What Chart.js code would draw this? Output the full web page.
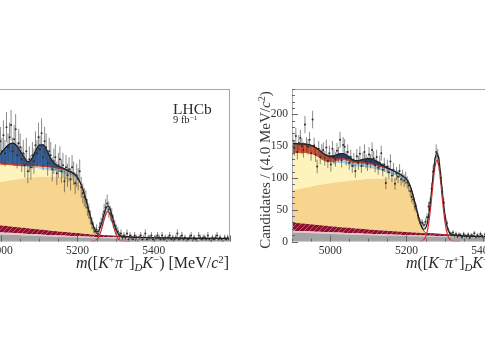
<!DOCTYPE html>
<html><head><meta charset="utf-8">
<script src="https://cdn.jsdelivr.net/npm/chart.js@4.4.1/dist/chart.umd.min.js"></script>
<style>
html,body{margin:0;padding:0;width:485px;height:360px;overflow:hidden;background:#fff;}
body{position:relative;font-family:'Liberation Serif',serif;color:#2a2a2a;}
canvas{position:absolute;top:0;}
.t{position:absolute;white-space:nowrap;line-height:1;z-index:2;font-weight:normal;}
sup{font-size:0.68em;vertical-align:0.45em;line-height:0;}
sub{font-size:0.68em;vertical-align:-0.3em;line-height:0;}
</style></head><body>
<canvas id="cL" width="360" height="360" style="left:-120px"></canvas>
<canvas id="cR" width="400" height="360" style="left:180px"></canvas>
<div class="t" style="left:173px;top:101px;font-size:15.5px">LHCb</div>
<div class="t" style="left:173px;top:115px;font-size:10.5px">9 fb<sup>−1</sup></div>
<div class="t" style="right:256px;top:255px;font-size:16px"><i>m</i>([<i>K</i><sup>+</sup><i>π</i><sup>−</sup>]<sub><i>D</i></sub><i>K</i><sup>−</sup>) [MeV/<i>c</i><sup>2</sup>]</div>
<div class="t" style="right:-74px;top:255px;font-size:16px"><i>m</i>([<i>K</i><sup>−</sup><i>π</i><sup>+</sup>]<sub><i>D</i></sub><i>K</i><sup>+</sup>) [MeV/<i>c</i><sup>2</sup>]</div>
<div class="t" style="left:145px;top:162px;width:240px;height:16px;line-height:16px;text-align:center;font-size:15px;color:#3a3a3a;transform:rotate(-90deg)">Candidates / (4.0 MeV/<i>c</i><sup>2</sup>)</div>
<script>
// ---- model grid (mass, MeV/c^2) ----
const massGrid=[4900,4910,4920,4930,4940,4950,4960,4970,4980,4990,5000,5010,5020,5030,5040,5050,5060,5070,5080,5090,5100,5110,5120,5130,5140,5150,5160,5170,5180,5190,5200,
5205,5210,5215,5220,5225,5230,5235,5240,5245,5250,5255,5260,5265,5270,5275,5280,5285,5290,5295,5300,5305,5310,5315,5320,
5340,5360,5380,5400,5450,5500,5550,5600];
const xTickValues=[5000,5200,5400];
const yTickValuesR=[0,50,100,150,200];
const binStart=4900, binWidth=4;

// ---- left panel (B-) model boundaries (cumulative) ----
const L_grayTop=[4.2,4.1,4.0,4.0,3.9,3.8,3.8,3.7,3.6,3.6,3.5,3.4,3.3,3.3,3.2,3.1,3.0,3.0,2.9,2.8,2.7,2.6,2.6,2.5,2.4,2.3,2.3,2.2,2.1,2.1,2.0,
2.0,2.0,1.9,1.9,1.9,1.8,1.8,1.8,1.7,1.7,1.7,1.7,1.6,1.6,1.6,1.6,1.6,1.5,1.5,1.5,1.5,1.5,1.5,1.4,
1.4,1.4,1.3,1.3,1.2,1.1,1.05,1.0];
const L_pinkTop=[5.2,5.1,5.0,5.0,4.9,4.8,4.8,4.7,4.6,4.6,4.5,4.4,4.3,4.2,4.1,4.0,3.9,3.8,3.7,3.6,3.5,3.4,3.3,3.2,3.1,3.0,3.0,2.9,2.8,2.8,2.7,
2.7,2.6,2.5,2.5,2.5,2.4,2.4,2.4,2.3,2.3,2.3,2.3,2.2,2.2,2.2,2.2,2.2,2.1,2.1,2.1,2.1,2.1,2.0,2.0,
2.0,1.9,1.9,1.8,1.7,1.6,1.55,1.5];
const L_hatchTop=[10,9.8,9.6,9.4,9.2,9.0,8.8,8.6,8.4,8.2,8.0,7.8,7.6,7.4,7.2,7.0,6.8,6.6,6.4,6.2,6.0,5.8,5.6,5.4,5.2,5.0,4.85,4.7,4.5,4.35,4.2,
4.1,4.0,3.9,3.8,3.7,3.6,3.5,3.4,3.3,3.2,3.15,3.1,3.0,2.95,2.9,2.8,2.75,2.7,2.65,2.6,2.55,2.5,2.45,2.4,
2.2,2.05,1.95,1.85,1.7,1.6,1.55,1.5];
const L_orangeTop=[24,25,25.8,26.5,27.2,27.8,28.3,28.7,29.1,29.4,29.7,30,30.3,30.6,30.9,31.2,31.4,31.6,31.8,32,32.1,32.2,32.3,32.3,32.3,32.3,32.2,32,31.6,31,29.8,
28.6,26.8,24.4,21.4,18,14.4,11,8,5.5,3.6,null,null,null,null,null,null,null,null,null,null,null,null,null,null,
null,null,null,null,null,null,null,null];
const L_paleTop=[40,40,40,40,39.8,39.6,39.3,39,38.7,38.4,38.2,38,37.9,37.8,37.6,37.4,37.2,37,36.8,36.5,36.2,35.9,35.6,35.3,35,34.6,34.2,33.7,33.1,32.3,30.8,
29.4,27.5,25,22,18.5,14.8,11.3,8.2,5.7,3.8,null,null,null,null,null,null,null,null,null,null,null,null,null,null,
null,null,null,null,null,null,null,null];
const L_blueLightTop=[40,40,40,40,39.8,39.6,39.3,39,38.7,38.4,38.2,38,37.9,37.8,37.6,37.4,37.5,37.4,37.4,37.3,37.2,37,36.9,36.7,36.5,36.1,35.7,35.1,34.3,33.3,31.6,
30,28,25.4,22.3,18.7,15,11.5,8.3,5.8,3.9,null,null,null,null,null,null,null,null,null,null,null,null,null,null,
null,null,null,null,null,null,null,null];
const L_redTop=[44,44,43.8,43.6,43.2,42.8,42.1,41.3,40.5,39.7,39.2,38.9,38.8,38.7,38.4,38.2,38.3,38.15,38.1,38,37.9,37.65,37.5,37.3,37.05,36.6,36.15,35.5,34.65,33.6,31.8,
30.1,28.1,25.5,22.4,18.8,15.1,11.6,8.4,5.9,4.0,null,null,null,null,null,null,null,null,null,null,null,null,null,null,
null,null,null,null,null,null,null,null];
const L_blueTop=[44.3,44.3,44.1,43.9,43.5,43.1,42.5,41.8,41.5,42.2,44.2,46.4,48.3,49,47.9,45.2,42.1,39.65,41.1,45,48.1,48.15,45.5,41.3,38.85,37.6,36.75,35.9,34.95,33.9,32,
30.2,28.2,25.6,22.5,18.9,15.2,11.7,8.5,6,4.1,null,null,null,null,null,null,null,null,null,null,null,null,null,null,
null,null,null,null,null,null,null,null];
const L_signal=[null,null,null,null,null,null,null,null,null,null,null,null,null,null,null,null,null,null,null,null,null,null,null,null,null,null,null,null,null,null,null,
null,null,null,null,null,null,0.05,0.1,0.3,0.8,2,4.2,7.3,10.9,13.8,15,13.8,10.9,7.3,4.2,2,0.8,0.3,0.1,
0.02,null,null,null,null,null,null,null];
const L_counts=[46,40,49,43,38,47,44,52,41,45, 39,48,43,41,50,37,44,40,46,38, 43,36,47,41,50,45,53,44,57,47,
52,58,45,51,56,43,49,47,41,44, 38,45,35,41,37,43,40,48,44,52, 46,54,42,50,47,39,45,43,36,40,
42,34,38,41,35,38,30,37,33,36, 31,37,34,29,33,31,35,27,24,22, 21,17,15,12,9,7,5,6,4,7,
9,11,15,17,19,16,14,13,10,8, 6,5,3,4,2,3,2,4,1,3,
2,1,3,2,0,2,3,1,2,4, 1,2,2,3,1,0,2,3,2,1, 3,1,2,0,2,3,1,2,1,2, 4,1,2,3,1,2,0,1,2,3,
1,2,1,0,3,2,1,2,2,1, 3,1,0,2,1,2,3,1,2,1, 0,2,1,2,1];

// ---- right panel (B+) model boundaries (cumulative) ----
const R_grayTop=[14,13.8,13.6,13.4,13.2,13,12.8,12.6,12.4,12.2,12,11.8,11.6,11.4,11.2,11,10.8,10.6,10.4,10.2,10,9.9,9.7,9.6,9.4,9.3,9.1,9,8.8,8.7,8.5,
8.4,8.4,8.3,8.2,8.1,8.1,8,7.9,7.9,7.8,7.7,7.6,7.6,7.5,7.4,7.4,7.3,7.2,7.2,7.1,7,7,6.9,6.8,
6.6,6.4,6.2,6,5.6,5.3,5,4.8];
const R_pinkTop=[17,16.7,16.5,16.2,16,15.7,15.5,15.2,15,14.7,14.5,14.2,14,13.8,13.5,13.3,13,12.8,12.5,12.3,12.1,11.9,11.7,11.5,11.3,11.1,10.9,10.7,10.5,10.4,10.2,
10.1,10,9.9,9.8,9.7,9.6,9.5,9.4,9.4,9.3,9.2,9.1,9,8.9,8.8,8.8,8.7,8.6,8.5,8.4,8.3,8.3,8.2,8.1,
7.9,7.6,7.4,7.2,6.8,6.4,6.1,5.8];
const R_hatchTop=[30,29.4,28.8,28.2,27.6,27,26.4,25.8,25.2,24.6,24,23.5,23,22.5,22,21.5,21,20.5,20,19.5,19,18.5,18,17.6,17.2,16.8,16.4,16,15.6,15.2,14.8,
14.6,14.4,14.2,14,13.8,13.6,13.4,13.2,13,12.8,12.6,12.4,12.2,12,11.8,11.6,11.4,11.2,11,10.8,10.6,10.4,10.2,10,
9.3,8.6,8,7.6,6.9,6.4,6.1,5.8];
const R_orangeTop=[80,81.5,83,84.3,85.5,86.7,87.8,88.8,89.8,90.8,91.8,92.7,93.5,94.3,95,95.6,96.2,96.8,97.3,97.8,98.2,98.6,98.9,99.1,99.2,99.3,99.2,99,98.3,97,93.5,
90,84,75.5,64.5,52.5,40.5,29.5,21,15.5,13.2,null,null,null,null,null,null,null,null,null,null,null,null,null,null,
null,null,null,null,null,null,null,null];
const R_paleTop=[139,139,139,139,138.5,137.5,135.5,132,128,125,123.5,123,123,123,122,120,118,117.5,117.5,117,116,115,113.5,112,110,108,106,104,101.5,98.5,94.5,
91,85,76.2,65.2,53.2,41.2,30.2,21.6,16,13.4,null,null,null,null,null,null,null,null,null,null,null,null,null,null,
null,null,null,null,null,null,null,null];
const R_blueLightTop=[139,139,139,139,138.5,137.5,135.5,132,128,125,124.5,125,126.5,128,127.5,125.5,123.5,122.5,122.5,122,121,120,118.5,117,115.5,113.5,111.5,109,106,102.5,97.5,
93.5,87,77.7,66.4,54.2,42,30.8,22,16.3,13.6,null,null,null,null,null,null,null,null,null,null,null,null,null,null,
null,null,null,null,null,null,null,null];
const R_redTop=[154,153.5,153,153,152.5,151,148,144,139,134.5,132,130.5,130.5,131,130.5,128.5,126.5,125.5,125.5,125,124,122.8,121,119,117,114.5,112.2,109.5,106.4,102.8,97.7,
93.6,87.1,77.8,66.5,54.3,42.1,30.9,22.1,16.4,13.7,null,null,null,null,null,null,null,null,null,null,null,null,null,null,
null,null,null,null,null,null,null,null];
const R_blueTop=[154.5,154,153.5,153.5,153,151.5,148.5,144.5,139.5,135.5,134.5,135,137,138.5,137,133,128.5,127,128,129.5,130.5,129.8,127,123,119.5,116,113.2,110.3,107,103.3,98.1,
93.7,87.2,77.9,66.6,54.4,42.2,31,22.2,16.5,13.8,null,null,null,null,null,null,null,null,null,null,null,null,null,null,
null,null,null,null,null,null,null,null];
const R_signal=[null,null,null,null,null,null,null,null,null,null,null,null,null,null,null,null,null,null,null,null,null,null,null,null,null,null,null,null,null,null,null,
null,null,null,null,null,null,0.3,0.8,2.5,7,17,36,62,93,118,128,118,93,62,36,17,7,2.5,0.8,
0.1,null,null,null,null,null,null,null];
const R_counts=[158,147,166,141,155,163,150,144,184,152, 149,160,139,192,151,137,118,146,133,141,
144,131,148,127,139,121,146,133,129,143, 137,160,128,152,149,131,141,124,133,119,
128,111,134,124,138,119,129,141,126,122, 137,126,144,131,120,133,116,124,139,113,
121,92,118,109,126,104,113,91,107,102, 111,98,103,96,100,93,88,79,70,66,
55,52,41,33,30,29,26,31,38,55, 61,83,110,121,141,134,122,100,78,61,
37,29,18,13,11,14,9,12,8,11,
10,7,12,9,8,11,6,10,9,13, 7,10,8,12,9,6,11,8,9,7, 12,8,10,6,9,11,7,8,10,6,
9,12,7,8,10,5,9,7,11,8, 6,9,8,10,5,7,9,6,8,10, 7,5,8,9,6,7,10,5,8,6, 7,9,5,6,8];

// ---- colours ----
const C_gray='#a3a3a3', C_pink='#e8c3c8', C_orange='#f8d58e', C_pale='#fff3bd',
      C_lightBlue='#a6d0e4', C_red='#e4572e', C_redLine='#a8182e';

function makeHatch(){
  const c=document.createElement('canvas'); c.width=c.height=5;
  const g=c.getContext('2d');
  g.fillStyle='#8a1230'; g.fillRect(0,0,5,5);
  g.strokeStyle='#c4566c'; g.lineWidth=1;
  g.beginPath(); g.moveTo(-1,6); g.lineTo(6,-1); g.stroke();
  return g.createPattern(c,'repeat');
}
const hatchPattern=makeHatch();

function buildPanel(layers, signal, counts){
  const sets=[]; let prev=null;
  layers.forEach((L,k)=>{
    const vals = prev ? L.vals.map((v,i)=> v==null ? prev[i] : Math.max(v,prev[i])) : L.vals.slice();
    sets.push({type:'line', data:massGrid.map((m,i)=>({x:m,y:vals[i]})),
      backgroundColor:L.bg, borderColor:L.border||'rgba(0,0,0,0)', borderWidth:L.bw||0,
      fill:k===0?'origin':'-1', pointRadius:0, cubicInterpolationMode:'monotone', order:20+k});
    prev=vals;
  });
  const total=massGrid.map((m,i)=>({x:m,y:prev[i]+(signal[i]||0)}));
  sets.push({type:'line', data:total, borderColor:'#111', borderWidth:1.2, fill:false, pointRadius:0, cubicInterpolationMode:'monotone', order:2});
  sets.push({type:'line', data:massGrid.map((m,i)=>({x:m,y:signal[i]})), borderColor:'#dd2a2a', borderWidth:1.2, fill:false, pointRadius:0, spanGaps:false, cubicInterpolationMode:'monotone', order:1});
  sets.push({type:'line', isData:true, data:counts.map((v,i)=>({x:binStart+binWidth*(i+0.5),y:v})), showLine:false,
    pointRadius:1.0, pointBackgroundColor:'#222', pointBorderWidth:0, borderColor:'#222', order:0});
  return sets;
}

const errPlugin={id:'err', afterDatasetsDraw(c){
  const ds=c.data.datasets.find(d=>d.isData); if(!ds) return;
  const g=c.ctx,a=c.chartArea,xs=c.scales.x,ys=c.scales.y;
  g.save(); g.beginPath(); g.rect(a.left,a.top,a.right-a.left,a.bottom-a.top); g.clip();
  g.strokeStyle='rgba(60,60,60,0.75)'; g.lineWidth=0.8; g.beginPath();
  ds.data.forEach(p=>{
    const e=Math.sqrt(Math.max(p.y,1)); const x=xs.getPixelForValue(p.x);
    g.moveTo(x,ys.getPixelForValue(p.y-e)); g.lineTo(x,ys.getPixelForValue(p.y+e));
  });
  g.stroke(); g.restore();
}};
const framePlugin={id:'frame', afterDraw(c,args,opts){
  const a=c.chartArea,g=c.ctx,xs=c.scales.x;
  g.save(); g.strokeStyle='#a8a8a8'; g.lineWidth=1;
  g.strokeRect(a.left+0.5,a.top+0.5,a.right-a.left-1,a.bottom-a.top-1);
  g.strokeStyle='#666'; g.beginPath();
  for(let m=4900;m<=5600;m+=50){const px=Math.round(xs.getPixelForValue(m))+0.5;const len=(m%200===0)?6:3;g.moveTo(px,a.bottom);g.lineTo(px,a.bottom-len);}
  if(opts.yTicks){const ys=c.scales.y;for(let v=0;v<=240;v+=10){const py=Math.round(ys.getPixelForValue(v))+0.5;const len=(v%50===0)?6:3;g.moveTo(a.left,py);g.lineTo(a.left+len,py);}}
  g.stroke(); g.restore();
}};

const tickFont={family:"'Liberation Serif', serif", size:11.5};
function xScale(){return {type:'linear', min:4900, max:5600,
  afterBuildTicks:s=>{s.ticks=xTickValues.map(v=>({value:v}));},
  afterFit:s=>{s.height=118.5;},
  ticks:{font:tickFont, color:'#333', padding:3, maxRotation:0, autoSkip:false, callback:v=>String(v)},
  grid:{display:false, drawTicks:false}, border:{display:false}};}

function makeChart(id, datasets, yScale, padding, yTicks){
  return new Chart(document.getElementById(id),{
    type:'line', data:{datasets},
    options:{responsive:false, animation:false, devicePixelRatio:1, events:[],
      layout:{padding},
      plugins:{legend:{display:false}, tooltip:{enabled:false}, frame:{yTicks}},
      scales:{x:xScale(), y:yScale}},
    plugins:[errPlugin, framePlugin]});
}

const leftLayers=[
  {vals:L_grayTop,bg:C_gray},{vals:L_pinkTop,bg:C_pink},{vals:L_hatchTop,bg:hatchPattern},
  {vals:L_orangeTop,bg:C_orange},{vals:L_paleTop,bg:C_pale},{vals:L_blueLightTop,bg:C_lightBlue},
  {vals:L_redTop,bg:C_red,border:C_redLine,bw:0.8},{vals:L_blueTop,bg:'#3464a6',border:'#1f3f72',bw:0.8}];
const rightLayers=[
  {vals:R_grayTop,bg:C_gray},{vals:R_pinkTop,bg:C_pink},{vals:R_hatchTop,bg:hatchPattern},
  {vals:R_orangeTop,bg:C_orange},{vals:R_paleTop,bg:C_pale},{vals:R_blueLightTop,bg:C_lightBlue},
  {vals:R_redTop,bg:C_red,border:C_redLine,bw:0.8},{vals:R_blueTop,bg:'#22437a',border:'#18305a',bw:0.8}];

makeChart('cL', buildPanel(leftLayers,L_signal,L_counts),
  {type:'linear',min:0,max:76,display:false}, {left:83,right:10,top:89,bottom:0}, false);
makeChart('cR', buildPanel(rightLayers,R_signal,R_counts),
  {type:'linear',min:0,max:240,
   afterBuildTicks:s=>{s.ticks=yTickValuesR.map(v=>({value:v}));},
   afterFit:s=>{s.width=112;},
   ticks:{font:tickFont,color:'#333',padding:4,callback:v=>String(v)},
   grid:{display:false,drawTicks:false}, border:{display:false}},
  {left:0,right:21,top:89,bottom:0}, true);
</script>
</body></html>
